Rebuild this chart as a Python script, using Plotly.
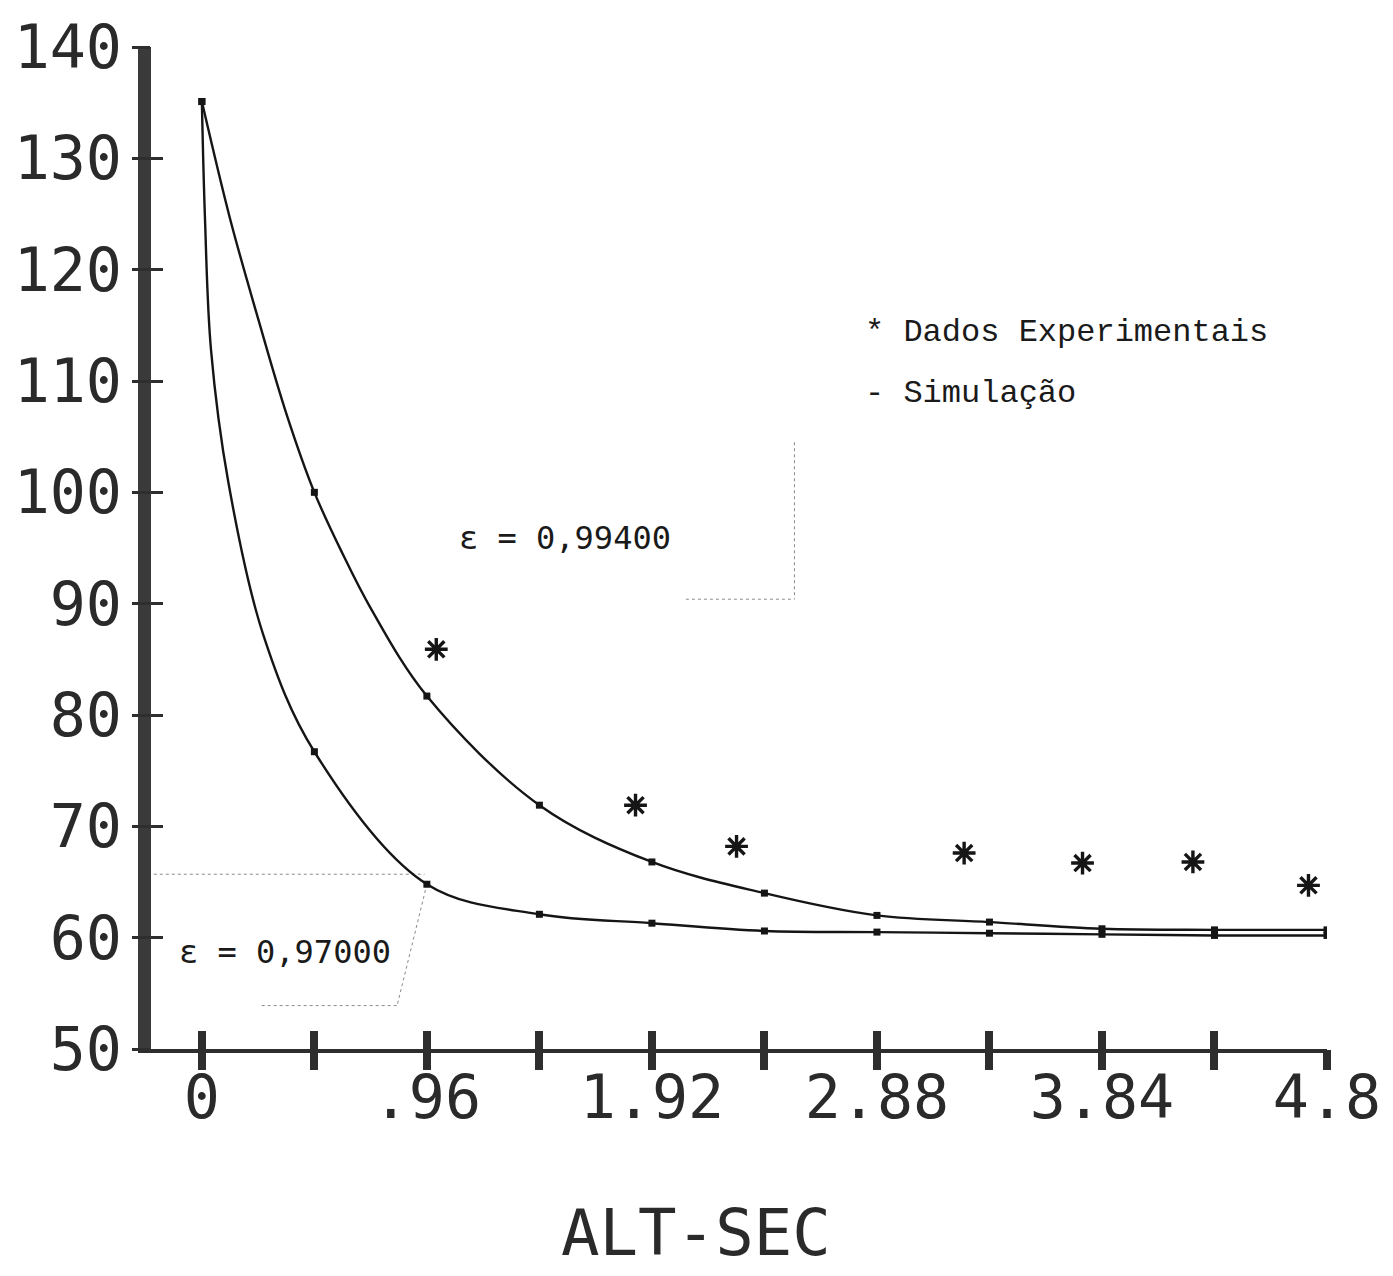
import plotly.graph_objects as go

# simulation output points (markers every 0.48)
SIM_X = [0, 0.48, 0.96, 1.44, 1.92, 2.40, 2.88, 3.36, 3.84, 4.32, 4.80]
SIM_994 = [135.1, 100.0, 81.7, 71.9, 66.8, 64.0, 62.0, 61.4, 60.8, 60.7, 60.7]
SIM_970 = [135.1, 76.7, 64.8, 62.1, 61.3, 60.6, 60.5, 60.4, 60.3, 60.2, 60.2]

# curves as traced on the plot (extra readings only where the curve is steep)
CURVE_994_X = [0, 0.12, 0.24, 0.36, 0.48, 0.60, 0.72, 0.96, 1.44, 1.92, 2.40, 2.88, 3.36, 3.84, 4.32, 4.80]
CURVE_994_Y = [135.1, 124.6, 115.6, 107.1, 100.0, 94.5, 89.6, 81.7, 71.9, 66.8, 64.0, 62.0, 61.4, 60.8, 60.7, 60.7]
CURVE_970_X = [0, 0.013, 0.039, 0.113, 0.262, 0.48, 0.96, 1.44, 1.92, 2.40, 2.88, 3.36, 3.84, 4.32, 4.80]
CURVE_970_Y = [135.1, 124.8, 112.8, 100.9, 87.2, 76.7, 64.8, 62.1, 61.3, 60.6, 60.5, 60.4, 60.3, 60.2, 60.2]

# experimental data (*)
EXP_X = [1.000, 1.850, 2.281, 3.252, 3.757, 4.228, 4.721]
EXP_Y = [85.9, 71.9, 68.2, 67.6, 66.7, 66.8, 64.7]

X_TICKS = [0, 0.48, 0.96, 1.44, 1.92, 2.40, 2.88, 3.36, 3.84, 4.32, 4.80]
X_TICK_TEXT = ["0", "", ".96", "", "1.92", "", "2.88", "", "3.84", "", "4.8"]
Y_TICKS = [50, 60, 70, 80, 90, 100, 110, 120, 130, 140]
Y_TICK_TEXT = ["50", "60", "70", "80", "90", "100", "110", "120", "130", "140"]

# hand-drawn dotted leader lines of the two labels
GUIDE_X = [-0.205, 0.95, None, 0.96, 0.833, None, 0.255, 0.833, None, 2.528, 2.528, None, 2.065, 2.528]
GUIDE_Y = [65.7, 65.7, None, 64.8, 53.9, None, 53.9, 53.9, None, 104.5, 90.4, None, 90.4, 90.4]

X_RANGE = [-0.217, 4.8]
Y_RANGE = [50, 140]

MONO = "DejaVu Sans Mono"
INK = "#151515"
AXIS_INK = "#2e2e2e"

fig = go.Figure()

fig.add_trace(go.Scatter(x=GUIDE_X, y=GUIDE_Y, mode="lines",
                         line=dict(color="#8a8a8a", width=1, dash="dot"), hoverinfo="skip"))
for cx, cy in [(CURVE_994_X, CURVE_994_Y), (CURVE_970_X, CURVE_970_Y)]:
    fig.add_trace(go.Scatter(x=cx, y=cy, mode="lines",
                             line=dict(color=INK, width=2.4, shape="spline", smoothing=1.0)))
for sy in [SIM_994, SIM_970]:
    fig.add_trace(go.Scatter(x=SIM_X, y=sy, mode="markers",
                             marker=dict(symbol="square", size=7, color=INK)))
fig.add_trace(go.Scatter(x=EXP_X, y=EXP_Y, mode="markers",
                         marker=dict(symbol="asterisk-open", size=19, color=INK,
                                     line=dict(width=3.4, color=INK))))
# empty trace to hold the overlay axes (outer half of the crossing ticks)
fig.add_trace(go.Scatter(x=[], y=[], xaxis="x2", yaxis="y2", showlegend=False))

tick_font = dict(family=MONO, size=60, color="#2a2a2a")
fig.update_layout(
    width=1393,
    height=1276,
    margin=dict(l=151, r=61, t=43, b=227),
    plot_bgcolor="white",
    paper_bgcolor="white",
    showlegend=False,
    xaxis=dict(range=X_RANGE, tickvals=X_TICKS, ticktext=X_TICK_TEXT, ticks="inside",
               ticklen=18, tickwidth=8, tickcolor=AXIS_INK, showgrid=False, zeroline=False,
               showline=True, linecolor=AXIS_INK, linewidth=4, tickfont=tick_font,
               ticklabelstandoff=-7),
    yaxis=dict(range=Y_RANGE, tickvals=Y_TICKS, ticktext=Y_TICK_TEXT, ticks="inside",
               ticklen=12, tickwidth=3, tickcolor=AXIS_INK, showgrid=False, zeroline=False,
               showline=True, linecolor="#3a3a3a", linewidth=13, tickfont=tick_font,
               ticklabelstandoff=4),
    xaxis2=dict(range=X_RANGE, overlaying="x", anchor="y2", tickvals=X_TICKS, ticks="outside",
                ticklen=20, tickwidth=8, tickcolor=AXIS_INK, showticklabels=False,
                showgrid=False, zeroline=False, showline=False),
    yaxis2=dict(range=Y_RANGE, overlaying="y", anchor="x2", tickvals=Y_TICKS, ticks="outside",
                ticklen=18, tickwidth=3, tickcolor=AXIS_INK, showticklabels=False,
                showgrid=False, zeroline=False, showline=False),
)

label_font = dict(family=MONO, size=32, color="#1a1a1a")
legend_font = dict(family="Liberation Mono", size=32, color="#1a1a1a")
fig.add_annotation(x=1.088, y=95.9, text="\u03b5 = 0,99400", showarrow=False,
                   xanchor="left", yanchor="middle", font=label_font)
fig.add_annotation(x=-0.106, y=58.7, text="\u03b5 = 0,97000", showarrow=False,
                   xanchor="left", yanchor="middle", font=label_font)
fig.add_annotation(x=2.82, y=114.4, text="* Dados Experimentais", showarrow=False,
                   xanchor="left", yanchor="middle", font=legend_font)
fig.add_annotation(x=2.82, y=108.9, text="- Simulação", showarrow=False,
                   xanchor="left", yanchor="middle", font=legend_font)
fig.add_annotation(x=2.107, xref="x", y=-0.184, yref="paper", text="ALT-SEC", showarrow=False,
                   xanchor="center", yanchor="middle",
                   font=dict(family=MONO, size=64, color="#2a2a2a"))

fig.write_html("out.html", config={"displayModeBar": False},
               post_script="document.body.style.margin='0';")
